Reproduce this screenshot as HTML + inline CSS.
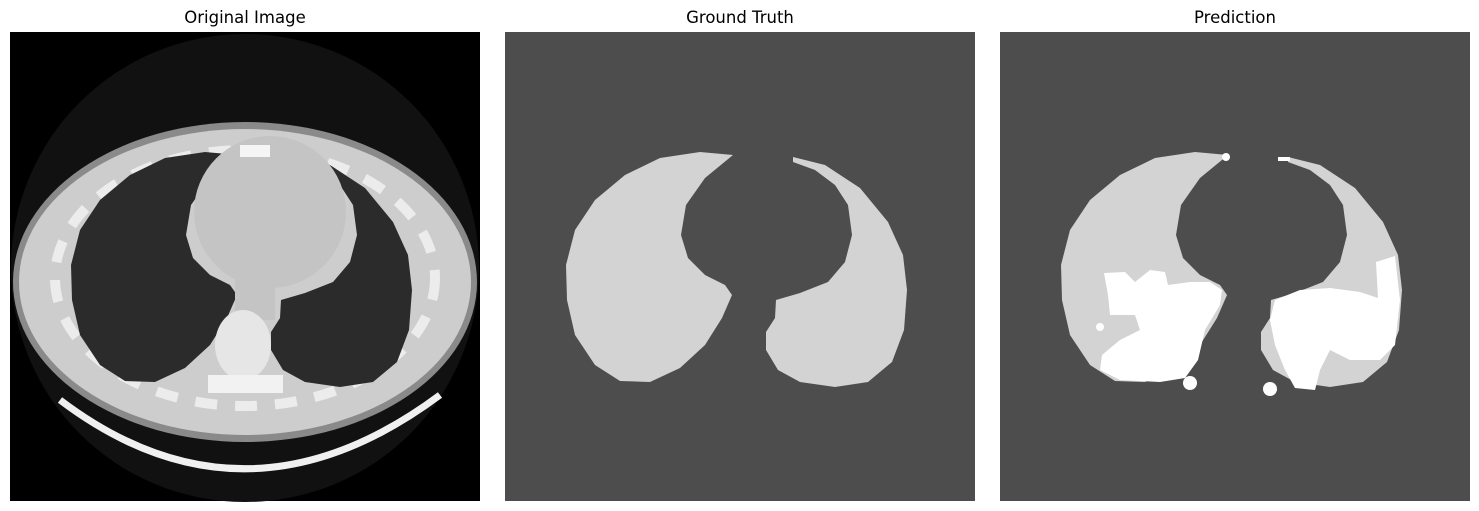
<!DOCTYPE html>
<html><head><meta charset="utf-8"><style>
html,body{margin:0;padding:0;background:#fff;}
svg{display:block;}
text{font-family:"DejaVu Sans","Liberation Sans",sans-serif;font-size:16.5px;fill:#000;}
</style></head><body>
<svg width="1479" height="511" viewBox="0 0 1479 511">
<defs>
<path id="lungL" d="M733,155 L700,152 L660,158 L625,175 L595,200 L575,230 L566,265 L567,300 L575,335 L595,365 L620,381 L650,382 L680,368 L705,345 L722,318 L732,295 L725,285 L705,275 L688,258 L681,235 L686,205 L705,178 Z"/>
<path id="lungR" d="M793,157 L825,165 L860,188 L888,222 L903,255 L907,290 L904,330 L892,362 L868,382 L835,387 L800,382 L778,370 L766,350 L766,332 L775,318 L776,300 L800,293 L828,282 L845,262 L852,235 L848,205 L835,185 L815,170 L793,162 Z"/>
</defs>

<g>
<text x="245" y="23" text-anchor="middle">Original Image</text>
<rect x="10" y="32" width="470" height="469" fill="#000"/>
<circle cx="245" cy="268" r="234" fill="#111"/>
<ellipse cx="245" cy="282" rx="232" ry="160" fill="#8a8a8a"/>
<ellipse cx="245" cy="282" rx="226" ry="153" fill="#cdcdcd"/>
<ellipse cx="245" cy="278" rx="190" ry="128" fill="none" stroke="#ececec" stroke-width="10" stroke-dasharray="22 18"/>
<g transform="translate(-495,0)" fill="#2b2b2b">
<use href="#lungL"/><use href="#lungR"/>
</g>
<circle cx="270" cy="212" r="76" fill="#c4c4c4"/>
<rect x="235" y="280" width="40" height="40" fill="#c4c4c4"/>
<ellipse cx="243" cy="345" rx="28" ry="35" fill="#e6e6e6"/>
<rect x="208" y="375" width="75" height="18" fill="#f2f2f2"/>
<rect x="240" y="145" width="30" height="12" fill="#f5f5f5"/>
<path d="M60,400 Q245,540 440,395" fill="none" stroke="#f0f0f0" stroke-width="7"/>
</g>

<g>
<text x="740" y="23" text-anchor="middle">Ground Truth</text>
<rect x="505" y="32" width="470" height="469" fill="#4d4d4d"/>
<g fill="#d3d3d3">
<use href="#lungL"/><use href="#lungR"/>
</g>
</g>

<g>
<text x="1235" y="23" text-anchor="middle">Prediction</text>
<rect x="1000" y="32" width="470" height="469" fill="#4d4d4d"/>
<g transform="translate(495,0)" fill="#d3d3d3">
<use href="#lungL"/><use href="#lungR"/>
</g>
<g fill="#fff">
<path d="M1104,273 L1125,272 L1135,282 L1150,270 L1165,272 L1168,285 L1190,282 L1210,282 L1222,290 L1220,305 L1205,330 L1198,360 L1185,378 L1160,382 L1120,380 L1100,370 L1102,355 L1120,340 L1140,330 L1135,315 L1110,315 L1108,295 Z"/>
<path d="M1275,300 L1300,290 L1330,288 L1360,292 L1378,298 L1376,262 L1395,256 L1400,300 L1395,345 L1380,360 L1350,360 L1330,350 L1320,370 L1315,390 L1295,388 L1285,370 L1275,345 L1270,320 Z"/>
<circle cx="1190" cy="383" r="7"/>
<circle cx="1270" cy="389" r="7"/>
<circle cx="1226" cy="157" r="4"/>
<rect x="1278" y="157" width="12" height="4"/>
<circle cx="1100" cy="327" r="4"/>
</g>
</g>
</svg>
</body></html>
